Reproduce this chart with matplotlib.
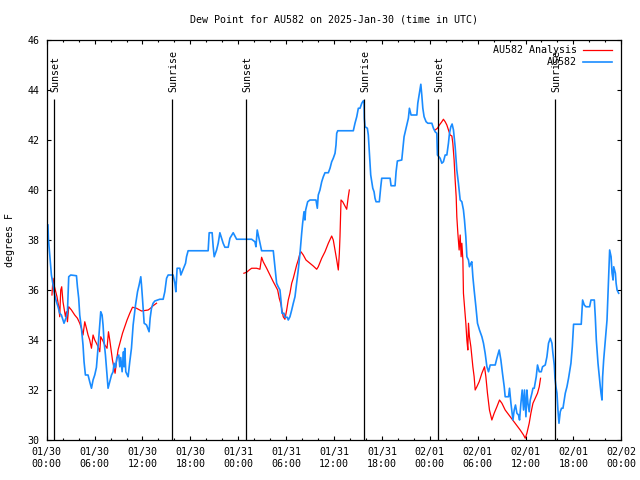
import numpy as np
import matplotlib
matplotlib.use('Agg')
import matplotlib.pyplot as plt

plt.rcParams['font.family'] = ['DejaVu Sans Mono']
plt.rcParams['font.size'] = 7.2

# hours since 2025-01-30 00:00 UTC
obs_hours = [0.16, 0.21, 0.38, 0.59, 0.79, 1.00, 1.22, 1.42, 1.63, 1.84, 2.17, 2.47, 2.60, 2.76,
             3.01, 3.73, 3.85, 4.01, 4.14, 4.35, 4.55, 4.68, 4.85, 5.18, 5.39, 5.61, 5.81, 6.02,
             6.23, 6.36, 6.52, 6.69, 6.77, 6.94, 7.06, 7.19, 7.36, 7.53, 7.69, 7.90, 8.12, 8.32,
             8.44, 8.62, 8.78, 9.03, 9.16, 9.28, 9.45, 9.62, 9.70, 9.78, 9.91, 10.20, 10.41,
             10.62, 10.83, 11.13, 11.38, 11.58, 11.79, 11.88, 12.00, 12.21, 12.51, 12.83, 12.96,
             13.13, 13.33, 13.55, 14.17, 14.59, 14.80, 15.02, 15.22, 15.84, 16.06, 16.18, 16.34,
             16.68, 16.81, 16.97, 17.22, 17.40, 17.52, 17.72, 20.23, 20.36, 20.73, 20.86, 20.99,
             21.29, 21.49, 21.70, 21.91, 22.11, 22.33, 22.74, 22.96, 23.37, 23.80, 24.84, 25.68,
             26.09, 26.22, 26.38, 26.51, 26.63, 26.81, 26.93, 28.39, 28.51, 28.69, 28.81, 29.01,
             29.23, 29.35, 29.48, 29.73, 29.85, 30.14, 30.27, 30.48, 30.70, 30.90, 31.11, 31.32,
             31.52, 31.74, 31.95, 32.07, 32.24, 32.36, 32.45, 32.70, 32.99, 33.74, 33.91, 34.03,
             34.24, 34.46, 34.66, 34.87, 35.29, 35.50, 35.71, 35.91, 36.13, 36.25, 36.34, 36.47,
             38.42, 38.63, 38.85, 39.05, 39.26, 39.48, 39.68, 39.76, 39.80, 39.89, 40.18, 40.30,
             40.43, 40.60, 40.86, 41.02, 41.14, 41.27, 41.68, 41.86, 41.98, 43.03, 43.15, 43.65,
             43.78, 43.94, 44.49, 44.62, 44.78, 45.03, 45.32, 45.45, 45.66, 46.38, 46.50, 46.70,
             46.88, 47.00, 47.13, 47.29, 47.54, 47.76, 48.26, 48.46, 48.67, 48.88, 48.96, 49.30,
             49.51, 49.71, 49.93, 50.14, 50.34, 50.47, 50.64, 50.80, 50.97, 51.05, 51.18, 51.39,
             51.59, 51.81, 52.02, 52.22, 52.35, 52.52, 52.65, 52.85, 52.97, 53.15, 53.27, 53.40,
             53.56, 53.78, 53.98, 54.23, 54.53, 54.73, 54.94, 55.16, 55.36, 55.57, 56.20, 56.41,
             56.70, 56.91, 57.11, 57.33, 57.45, 57.87, 57.99, 58.17, 58.42, 58.58, 58.74, 58.92,
             59.12, 59.25, 59.42, 59.58, 59.75, 59.87, 60.05, 60.17, 60.30, 60.46, 60.59, 60.80,
             60.93, 61.09, 61.34, 61.50, 61.72, 61.97, 62.13, 62.47, 62.68, 62.88, 63.10, 63.31,
             63.43, 63.60, 63.69, 63.81, 63.94, 64.06, 64.19, 64.35, 64.51, 64.69, 64.85, 64.98,
             65.19, 65.39, 65.52, 65.69, 65.86, 66.02, 66.98, 67.15, 67.36, 67.57, 68.03, 68.20,
             68.62, 68.74, 68.87, 69.08, 69.24, 69.37, 69.46, 69.58, 69.66, 69.79, 70.00, 70.21,
             70.34, 70.46, 70.54, 70.72, 70.84, 70.97, 71.05, 71.26, 71.35, 71.47, 71.67]
obs_dewpt = [38.6, 38.07, 37.4, 36.6, 36.2, 35.8, 35.53, 35.33, 35.07, 35.0, 34.67, 34.93, 35.13, 36.53,
             36.6, 36.57, 36.13, 35.67, 35.0, 34.47, 33.8, 33.13, 32.6, 32.6, 32.33, 32.07, 32.4, 32.6,
             32.9, 33.4, 34.07, 34.73, 35.13, 35.0, 34.6, 33.93, 33.4, 32.73, 32.07, 32.33, 32.6, 32.73,
             33.07, 32.9, 33.27, 33.4, 32.93, 33.3, 32.73, 33.53, 32.93, 33.67, 32.73, 32.53, 33.13,
             33.67, 34.6, 35.4, 35.93, 36.2, 36.53, 36.2, 35.67, 34.67, 34.6, 34.33, 34.87,
             35.27, 35.47, 35.56, 35.63, 35.63, 35.93, 36.47, 36.6, 36.6, 36.27, 35.93, 36.87,
             36.87, 36.6, 36.73, 36.93, 37.07, 37.33, 37.57, 37.57, 38.29, 38.29, 37.73, 37.33,
             37.6, 37.87, 38.29, 38.07, 37.87, 37.71, 37.71, 38.07, 38.29, 38.03, 38.03, 38.03,
             37.93, 37.73, 38.4, 38.2, 38.0, 37.73, 37.57, 37.57, 37.2, 36.67, 36.27, 36.13,
             36.0, 35.6, 35.07, 35.07, 34.91, 34.91, 34.8, 34.93, 35.2, 35.47, 35.73, 36.27,
             36.8, 37.47, 38.27, 38.67, 39.13, 38.8, 39.2, 39.53, 39.6, 39.6, 39.27, 39.8,
             40.0, 40.33, 40.53, 40.69, 40.69, 40.87, 41.13, 41.27, 41.47, 41.8, 42.27, 42.37,
             42.37, 42.67, 42.93, 43.27, 43.27, 43.47, 43.57, 43.53, 42.87, 42.53, 42.47, 42.2,
             41.53, 40.6, 40.07, 39.93, 39.67, 39.53, 39.53, 40.13, 40.47, 40.47, 40.17, 40.17,
             40.73, 41.16, 41.2, 41.6, 42.13, 42.47, 42.87, 43.27, 43.0, 43.0, 43.47, 43.87,
             44.23, 43.8, 43.27, 42.93, 42.73, 42.67, 42.67, 42.47, 42.33, 42.27, 41.4, 41.27,
             41.07, 41.13, 41.4, 41.4, 41.87, 42.27, 42.53, 42.64, 42.4, 42.13, 41.73, 40.8,
             40.27, 39.6, 39.53, 39.2, 38.8, 38.13, 37.33, 37.2, 36.93, 37.07, 37.13, 36.53,
             36.0, 35.33, 34.67, 34.4, 34.13, 33.87, 33.47, 32.93, 32.73, 33.0, 33.0, 33.27,
             33.6, 33.2, 32.67, 32.13, 31.73, 31.73, 32.07, 31.47, 30.8, 31.2, 31.4, 31.07,
             31.0, 30.8, 31.47, 32.0, 31.2, 32.0, 30.93, 32.0, 31.47, 31.13, 31.6, 31.87,
             32.07, 32.07, 32.53, 33.0, 32.73, 32.73, 32.93, 33.0, 33.33, 33.87, 34.07, 33.87,
             33.47, 33.0, 32.47, 32.13, 31.87, 31.2, 30.67, 31.13, 31.27, 31.27, 31.6, 31.87,
             32.13, 32.47, 32.73, 33.07, 33.73, 34.63, 34.63, 35.6, 35.4, 35.33, 35.33, 35.6,
             35.6, 34.93, 34.0, 33.07, 32.53, 32.13, 31.87, 31.6, 32.53, 33.2, 34.0, 34.8,
             35.93, 37.07, 37.6, 37.33, 36.67, 36.4, 36.93, 36.67, 36.27, 36.0, 35.87]

# analysis series, nan marks the gaps between runs
ana_hours = [0.66, 0.79, 0.92, 1.13, 1.29, 1.51, 1.63, 1.76, 1.88, 2.04, 2.17, 2.35, 2.47, 2.60,
             2.76, 3.10, 3.51, 3.85, 4.14, 4.35, 4.55, 4.77, 4.98, 5.18, 5.39, 5.61, 5.81, 6.02,
             6.23, 6.44, 6.65, 6.77, 6.99, 7.28, 7.56, 7.74, 7.90, 8.07, 8.24, 8.40, 8.57, 8.74,
             8.94, 9.16, 9.50, 9.78, 10.07, 10.41, 10.75, 11.25, 11.88, 12.71, 13.01, 13.33, 13.76,
             19.0,
             24.71, 25.05, 25.38, 25.68, 26.30, 26.72, 26.93, 27.13, 27.56, 27.97, 28.39, 28.73,
             28.94, 29.14, 29.32, 29.48, 29.64, 29.85, 30.07, 30.27, 30.48, 30.70, 30.90, 31.11,
             31.32, 31.52, 31.74, 31.86, 32.15, 32.49, 32.99, 33.40, 33.83, 34.03, 34.46, 34.87,
             35.29, 35.71, 35.91, 36.13, 36.34, 36.54, 36.67, 36.75, 36.88, 37.09, 37.38, 37.59,
             37.79, 37.92,
             43.0,
             48.67, 48.96, 49.21, 49.51, 49.71, 49.93, 50.14, 50.34, 50.55, 50.77, 50.89, 51.05,
             51.18, 51.31, 51.39, 51.52, 51.68, 51.81, 51.93, 52.02, 52.15, 52.22, 52.35, 52.52,
             52.65, 52.77, 52.85, 52.97, 53.15, 53.27, 53.40, 53.56, 53.69, 53.90, 54.19, 54.53,
             54.86, 55.03, 55.23, 55.48, 55.78, 56.07, 56.41, 56.74, 57.04, 57.45, 58.08, 58.70,
             59.33, 59.75, 59.96, 60.17, 60.46, 60.67, 60.93, 61.21, 61.50, 61.72, 61.88]
ana_dewpt = [35.8, 36.47, 36.2, 35.93, 35.73, 35.33, 34.93, 36.0, 36.13, 35.53, 35.27, 34.93, 35.13, 34.73,
             35.33, 35.2, 35.0, 34.87, 34.67, 34.47, 34.2, 34.73, 34.47, 34.2, 34.0, 33.67, 34.2, 34.0,
             33.87, 33.73, 33.53, 34.13, 34.0, 33.8, 33.67, 34.33, 34.0, 33.6, 33.2, 32.93, 32.67, 33.13,
             33.6, 33.87, 34.27, 34.53, 34.8, 35.07, 35.31, 35.27, 35.16, 35.2, 35.27, 35.37, 35.47,
             np.nan,
             36.67, 36.71, 36.8, 36.87, 36.87, 36.83, 37.31, 37.13, 36.87, 36.6, 36.33, 36.13,
             36.0, 35.67, 35.47, 35.2, 34.93, 34.83, 35.2, 35.6, 35.87, 36.27, 36.47, 36.73,
             37.0, 37.2, 37.47, 37.53, 37.4, 37.2, 37.07, 36.96, 36.83, 36.93, 37.27, 37.53,
             37.87, 38.16, 38.0, 37.6, 37.2, 36.8, 37.47, 38.13, 39.6, 39.53, 39.36, 39.23,
             39.73, 40.0,
             np.nan,
             42.4, 42.47, 42.6, 42.73, 42.83, 42.73, 42.6, 42.4, 42.2, 42.16, 41.87, 41.2,
             40.4, 39.73, 38.93, 38.27, 37.6, 38.2, 37.33, 37.87, 37.2, 35.87, 35.33, 34.67,
             34.0, 33.6, 34.67, 34.13, 33.73, 33.33, 32.93, 32.53, 32.0, 32.13, 32.33, 32.67,
             32.93, 32.53, 31.87, 31.2, 30.8, 31.07, 31.33, 31.6, 31.47, 31.2, 30.93, 30.67,
             30.4, 30.2, 30.07, 30.27, 30.67, 31.07, 31.47, 31.67, 31.87, 32.13, 32.47]

sun_hours = [0.95, 15.73, 25.0, 39.8, 49.05, 63.7]
sun_labels = ['Sunset', 'Sunrise', 'Sunset', 'Sunrise', 'Sunset', 'Sunrise']

tick_hours = list(range(0, 73, 6))
tick_labels = ['01/30\n00:00', '01/30\n06:00', '01/30\n12:00', '01/30\n18:00',
               '01/31\n00:00', '01/31\n06:00', '01/31\n12:00', '01/31\n18:00',
               '02/01\n00:00', '02/01\n06:00', '02/01\n12:00', '02/01\n18:00',
               '02/02\n00:00']

fig = plt.figure(figsize=(6.4, 4.8), dpi=100)
ax = fig.add_axes([46.7 / 640, 40 / 480, 574.6 / 640, 400 / 480])

# day/night markers
for h, lab in zip(sun_hours, sun_labels):
    ax.vlines(h, 30, 43.65, color='black', lw=0.9, zorder=3)
    ax.text(h + 0.12, 43.92, lab, rotation=90, ha='center', va='bottom', color='black')

ax.plot(ana_hours, ana_dewpt, color='#ff0000', lw=0.9, zorder=2)
ax.plot(obs_hours, obs_dewpt, color='#1a8cff', lw=1.2, zorder=2)

# legend like gnuplot's (text right aligned, sample to the right)
ax.text(0.923, 0.975, 'AU582 Analysis', transform=ax.transAxes, ha='right', va='center')
ax.plot([0.933, 0.984], [0.975, 0.975], transform=ax.transAxes, color='#ff0000', lw=0.9)
ax.text(0.923, 0.945, 'AU582', transform=ax.transAxes, ha='right', va='center')
ax.plot([0.933, 0.984], [0.945, 0.945], transform=ax.transAxes, color='#1a8cff', lw=1.2)

ax.set_xlim(0, 72)
ax.set_ylim(30, 46)
ax.set_xticks(tick_hours)
ax.set_xticklabels(tick_labels, linespacing=1.2)
ax.set_xticks(range(0, 73, 2), minor=True)
ax.set_yticks(range(30, 47, 2))
ax.tick_params(direction='in', top=True, right=True, length=3, width=0.8, pad=5)
ax.tick_params(which='minor', direction='in', top=True, right=True, length=1.5, width=0.8)
for s in ax.spines.values():
    s.set_linewidth(0.9)

fig.text(10 / 640, 0.5, 'degrees F', rotation=90, ha='center', va='center')
fig.text(334 / 640, 1 - 20 / 480, 'Dew Point for AU582 on 2025-Jan-30 (time in UTC)',
         ha='center', va='center')

fig.savefig('out.png', dpi=100)
